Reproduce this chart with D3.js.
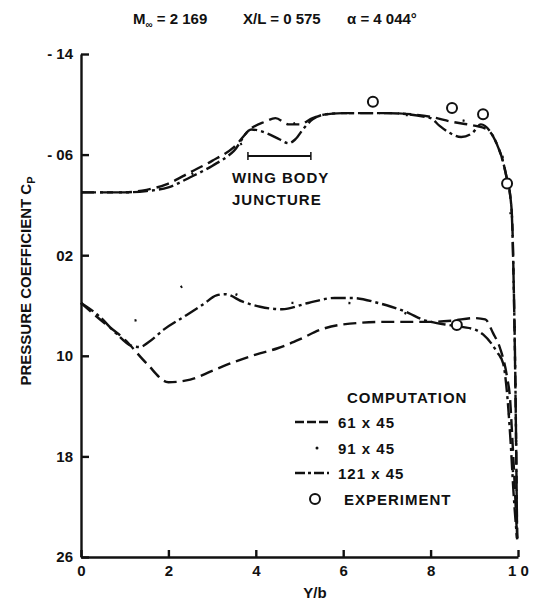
<html>
<head>
<script src="https://d3js.org/d3.v7.min.js"></script>
<style>
  body { margin: 0; background: #fff; }
  text { font-family: "Liberation Sans", Arial, sans-serif; font-weight: bold; fill: #111; }
</style>
</head>
<body>
<div id="chart"></div>
<script>
// span station Y/b and pressure coefficient Cp
const upper61 = [[0,-0.030],[0.1,-0.030],[0.15,-0.032],[0.2,-0.037],[0.25,-0.046],[0.3,-0.055],[0.35,-0.066],[0.39,-0.081],[0.42,-0.086],[0.445,-0.089],[0.475,-0.084],[0.5,-0.084],[0.53,-0.089],[0.56,-0.092],[0.6,-0.093],[0.7,-0.093],[0.8,-0.090],[0.85,-0.086],[0.9,-0.083],[0.93,-0.080],[0.952,-0.068],[0.966,-0.054],[0.975,-0.040],[0.982,-0.028],[0.987,-0.005],[0.99,0.04],[0.993,0.10],[0.996,0.18],[0.998,0.245]];
const lower61 = [[0,0.058],[0.05,0.073],[0.1,0.087],[0.15,0.106],[0.2,0.121],[0.25,0.119],[0.3,0.112],[0.35,0.105],[0.4,0.099],[0.45,0.094],[0.5,0.087],[0.55,0.079],[0.6,0.075],[0.7,0.073],[0.8,0.073],[0.85,0.072],[0.9,0.070],[0.925,0.071],[0.943,0.082],[0.959,0.094],[0.975,0.117],[0.982,0.135],[0.986,0.159],[0.993,0.207],[0.998,0.246]];
const upper91 = [[0,-0.030],[0.15,-0.031],[0.25,-0.044],[0.35,-0.066],[0.41,-0.074],[0.45,-0.080],[0.5,-0.086],[0.6,-0.093],[0.8,-0.090],[0.9,-0.085],[0.95,-0.070],[0.975,-0.040],[0.99,0.04],[0.998,0.245]];
const lower91 = [[0,0.058],[0.06,0.068],[0.12,0.072],[0.18,0.058],[0.25,0.043],[0.32,0.047],[0.4,0.056],[0.5,0.058],[0.6,0.058],[0.7,0.062],[0.8,0.072],[0.9,0.076],[0.95,0.092],[0.975,0.13],[0.99,0.20],[0.998,0.245]];
const upper121 = [[0,-0.030],[0.1,-0.030],[0.15,-0.031],[0.2,-0.034],[0.25,-0.042],[0.3,-0.051],[0.35,-0.063],[0.39,-0.080],[0.425,-0.077],[0.455,-0.072],[0.475,-0.069],[0.49,-0.072],[0.51,-0.081],[0.53,-0.088],[0.56,-0.092],[0.6,-0.093],[0.7,-0.093],[0.8,-0.089],[0.82,-0.083],[0.84,-0.078],[0.87,-0.074],[0.895,-0.077],[0.915,-0.084],[0.935,-0.079],[0.952,-0.068],[0.966,-0.054],[0.975,-0.040],[0.985,-0.018],[0.99,0.04],[0.994,0.12],[0.998,0.245]];
const lower121 = [[0,0.058],[0.04,0.068],[0.08,0.082],[0.115,0.092],[0.135,0.093],[0.155,0.089],[0.19,0.079],[0.24,0.068],[0.28,0.059],[0.31,0.052],[0.33,0.051],[0.37,0.057],[0.41,0.061],[0.46,0.063],[0.52,0.058],[0.58,0.054],[0.62,0.054],[0.68,0.058],[0.71,0.061],[0.75,0.066],[0.78,0.071],[0.8,0.073],[0.85,0.076],[0.9,0.079],[0.92,0.083],[0.952,0.097],[0.966,0.106],[0.975,0.130],[0.983,0.168],[0.99,0.21],[0.996,0.238],[0.998,0.245]];
const experiment = [[0.668,-0.102],[0.849,-0.097],[0.92,-0.092],[0.975,-0.037],[0.86,0.0755]];
const juncture = [0.382, 0.526];

const yTicks = [-0.14, -0.06, 0.02, 0.10, 0.18, 0.26];
const yTickLabels = ["- 14", "- 06", "02", "10", "18", "26"];
const xTicks = [0, 0.2, 0.4, 0.6, 0.8, 1.0];
const xTickLabels = ["0", "2", "4", "6", "8", "1 0"];
const legendNames = ["61 x 45", "91 x 45", "121 x 45"];

const w = 536;
const h = 604;

const svg = d3.select("#chart").append("svg")
    .attr("width", w)
    .attr("height", h);

const xScale = d3.scaleLinear().domain([0, 1]).range([81, 518]);
const yScale = d3.scaleLinear().domain([-0.14, 0.26]).range([54, 557]);

const styles = [
    {dash: "13,6", width: 2.4},
    {dash: "2,55", width: 2.4},
    {dash: "15,4,3,4", width: 2.4}
];

// title
const title = svg.append("text").attr("y", 24).style("font-size", "15px");
title.append("tspan").attr("x", 133).text("M");
title.append("tspan").attr("dy", 4).style("font-size", "10px").text("∞");
title.append("tspan").attr("dy", -4).text(" = 2 169");
svg.append("text").attr("x", 243).attr("y", 24).style("font-size", "15px").text("X/L = 0 575");
svg.append("text").attr("x", 347).attr("y", 24).style("font-size", "15px").text("α = 4 044°");

svg //y-axis
    .append("g")
    .attr("transform", "translate(" + xScale(0) + ",0)")
    .call(d3.axisLeft(yScale).tickValues(yTicks).tickSize(-8).tickSizeOuter(0).tickPadding(8)
        .tickFormat((d, i) => yTickLabels[i]))
    .call(g => g.selectAll("line, path").attr("stroke", "#111").attr("stroke-width", 2.4))
    .call(g => g.selectAll("text").attr("font-family", null).style("font-size", "15px"));

svg //x-axis
    .append("g")
    .attr("transform", "translate(0," + yScale(0.26) + ")")
    .call(d3.axisBottom(xScale).tickValues(xTicks).tickSize(-7).tickSizeOuter(0).tickPadding(8)
        .tickFormat((d, i) => xTickLabels[i]))
    .call(g => g.selectAll("line, path").attr("stroke", "#111").attr("stroke-width", 2.4))
    .call(g => g.selectAll("text").attr("font-family", null).style("font-size", "15px"));

svg //x label
    .append("text")
    .attr("x", 315)
    .attr("y", 598)
    .attr("text-anchor", "middle")
    .style("font-size", "15px")
    .text("Y/b");

const ylab = svg.append("text")
    .attr("transform", "translate(31,281) rotate(-90)")
    .attr("text-anchor", "middle")
    .style("font-size", "15px");
ylab.append("tspan").text("PRESSURE COEFFICIENT C");
ylab.append("tspan").attr("dy", 4).style("font-size", "11px").text("P");

const line = d3.line()
    .x(d => xScale(d[0]))
    .y(d => yScale(d[1]))
    .curve(d3.curveMonotoneX);

const series = [[upper61, lower61], [upper91, lower91], [upper121, lower121]];
series.forEach((pair, i) => {
    pair.forEach(data => {
        svg.append("path")
            .attr("d", line(data))
            .attr("fill", "none")
            .attr("stroke", "#111")
            .attr("stroke-width", styles[i].width)
            .attr("stroke-dasharray", styles[i].dash);
    });
});

svg //experiment circles
    .selectAll("circle.exp")
    .data(experiment)
    .enter()
    .append("circle")
    .attr("class", "exp")
    .attr("cx", d => xScale(d[0]))
    .attr("cy", d => yScale(d[1]))
    .attr("r", 5)
    .attr("fill", "#fff")
    .attr("stroke", "#111")
    .attr("stroke-width", 2);

// wing body juncture bracket
const by = 156;
svg.append("line")
    .attr("x1", xScale(juncture[0])).attr("x2", xScale(juncture[1]))
    .attr("y1", by).attr("y2", by)
    .attr("stroke", "#111").attr("stroke-width", 2);
juncture.forEach(j => {
    svg.append("line")
        .attr("x1", xScale(j)).attr("x2", xScale(j))
        .attr("y1", by - 4).attr("y2", by + 4)
        .attr("stroke", "#111").attr("stroke-width", 1.5);
});
svg.append("text").attr("x", 232).attr("y", 183).style("font-size", "15px").style("letter-spacing", "1px").text("WING BODY");
svg.append("text").attr("x", 232).attr("y", 205).style("font-size", "15px").style("letter-spacing", "1px").text("JUNCTURE");

// legend
svg.append("text").attr("x", 347).attr("y", 403).style("font-size", "15px").style("letter-spacing", "1px").text("COMPUTATION");
const legY = [422, 448, 473];
legendNames.forEach((name, i) => {
    if (i === 1) {
        svg.append("circle").attr("cx", 317).attr("cy", legY[i]).attr("r", 1.5).attr("fill", "#111");
    } else {
        svg.append("line")
            .attr("x1", 295).attr("x2", 329)
            .attr("y1", legY[i]).attr("y2", legY[i])
            .attr("stroke", "#111")
            .attr("stroke-width", styles[i].width)
            .attr("stroke-dasharray", i === 0 ? "9,3" : "10,3,3,3");
    }
    svg.append("text")
        .attr("x", 338).attr("y", legY[i] + 6)
        .style("font-size", "15px")
        .style("letter-spacing", "1px")
        .text(name);
});
svg.append("circle").attr("cx", 315).attr("cy", 499).attr("r", 5)
    .attr("fill", "#fff").attr("stroke", "#111").attr("stroke-width", 2);
svg.append("text").attr("x", 344).attr("y", 505).style("font-size", "15px").style("letter-spacing", "1px").text("EXPERIMENT");
</script>
</body>
</html>
